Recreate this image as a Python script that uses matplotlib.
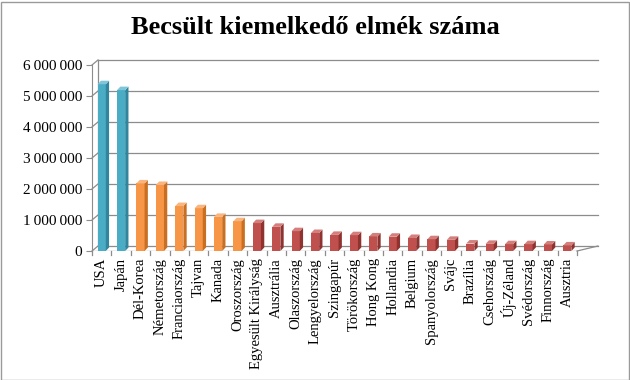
import numpy as np
import matplotlib
matplotlib.use("Agg")
import matplotlib.pyplot as plt
from matplotlib.patches import Polygon, Rectangle
from matplotlib.ticker import FuncFormatter

# adatok
orszagok = ["USA", "Japán", "Dél-Korea", "Németország", "Franciaország", "Tajvan",
            "Kanada", "Oroszország", "Egyesült Királyság", "Ausztrália", "Olaszország",
            "Lengyelország", "Szingapúr", "Törökország", "Hong Kong", "Hollandia",
            "Belgium", "Spanyolország", "Svájc", "Brazília", "Csehország", "Új-Zéland",
            "Svédország", "Finnország", "Ausztria"]
ertekek = [5380000, 5190000, 2180000, 2130000, 1450000, 1380000, 1100000, 960000,
           900000, 780000, 640000, 580000, 520000, 510000, 470000, 460000, 420000,
           380000, 360000, 240000, 230000, 220000, 220000, 210000, 180000]
csoport = [0, 0, 1, 1, 1, 1, 1, 1, 2, 2, 2, 2, 2, 2, 2, 2, 2, 2, 2, 2, 2, 2, 2, 2, 2]
y_tickek = [0, 1000000, 2000000, 3000000, 4000000, 5000000, 6000000]

szinek = ["#4BACC6", "#F79646", "#C0504D"]
oldal = ["#31859C", "#C86F22", "#8E3330"]
teteje = ["#7FC6D9", "#FAB57F", "#D47F7C"]

plt.rcParams["font.family"] = ["Liberation Serif", "DejaVu Serif"]

fig = plt.figure(figsize=(6.3, 3.8), dpi=100)
ax = fig.add_axes([92 / 630, 1 - 251 / 380, (577 - 92) / 630, (251 - 65) / 380])
ax.set_xlim(-0.5, 24.5)
ax.set_ylim(0, 6000000)

# 3D-s hatás méretei (adategységben)
mx = 1 / 19.4      # 1 px x irányban
my = 6000000 / 186  # 1 px y irányban
hx, hy = 6 * mx, 5 * my

# hátsó fal rácsvonalai és bal oldalfal
for t in y_tickek:
    ax.plot([-0.5 + hx, 25.58], [t + hy, t + hy], color="#8C8C8C", lw=0.9,
            clip_on=False, zorder=1)
    ax.plot([-0.5, -0.5 + hx], [t, t + hy], color="#8C8C8C", lw=0.9,
            clip_on=False, zorder=1)
ax.plot([-0.5 + hx, -0.5 + hx], [hy, 6000000 + hy], color="#8C8C8C", lw=0.9,
        clip_on=False, zorder=1)
# padló jobb széle
ax.plot([24.5, 25.58], [0, hy], color="#8C8C8C", lw=0.9, clip_on=False, zorder=1)

# oszlopok
w = 0.42
d = 0.17
dd = 3.5 * my
x = np.arange(len(orszagok))
ax.bar(x, ertekek, width=w, color=[szinek[c] for c in csoport], zorder=3,
       edgecolor="none")
for xi, v, c in zip(x, ertekek, csoport):
    xr = xi + w / 2
    xl = xi - w / 2
    ax.add_patch(Polygon([(xr, 0), (xr + d, dd), (xr + d, v + dd), (xr, v)],
                         closed=True, facecolor=oldal[c], edgecolor="none", zorder=3))
    ax.add_patch(Polygon([(xl, v), (xr, v), (xr + d, v + dd), (xl + d, v + dd)],
                         closed=True, facecolor=teteje[c], edgecolor="none", zorder=3))

# tengelyek
for s in ["top", "right", "bottom"]:
    ax.spines[s].set_visible(False)
ax.spines["left"].set_color("#8C8C8C")
ax.axhline(0, color="#8C8C8C", lw=0.9, zorder=2)
ax.set_yticks(y_tickek)
ax.yaxis.set_major_formatter(FuncFormatter(lambda v, p: f"{int(v):,}".replace(",", "\u2009")))
ax.tick_params(axis="y", length=4, color="#8C8C8C", labelsize=11, pad=3)
ax.set_xticks(x)
ax.set_xticklabels(orszagok, rotation=90, fontsize=10.5)
ax.tick_params(axis="x", length=0, pad=5)
for b in np.arange(-0.5, 25, 1):
    ax.plot([b, b], [0, -4 * my], color="#8C8C8C", lw=0.9, clip_on=False)
ax.set_facecolor("none")

fig.suptitle("Becsült kiemelkedő elmék száma", fontsize=19, fontweight="bold",
             y=1 - 28 / 380, va="center")

# diagram kerete
fig.patches.append(Rectangle((0.5 / 630, 0.5 / 380), 628 / 630, 378 / 380,
                             transform=fig.transFigure, fill=False,
                             edgecolor="#9A9A9A", lw=1))

fig.savefig("out.png", dpi=100)
